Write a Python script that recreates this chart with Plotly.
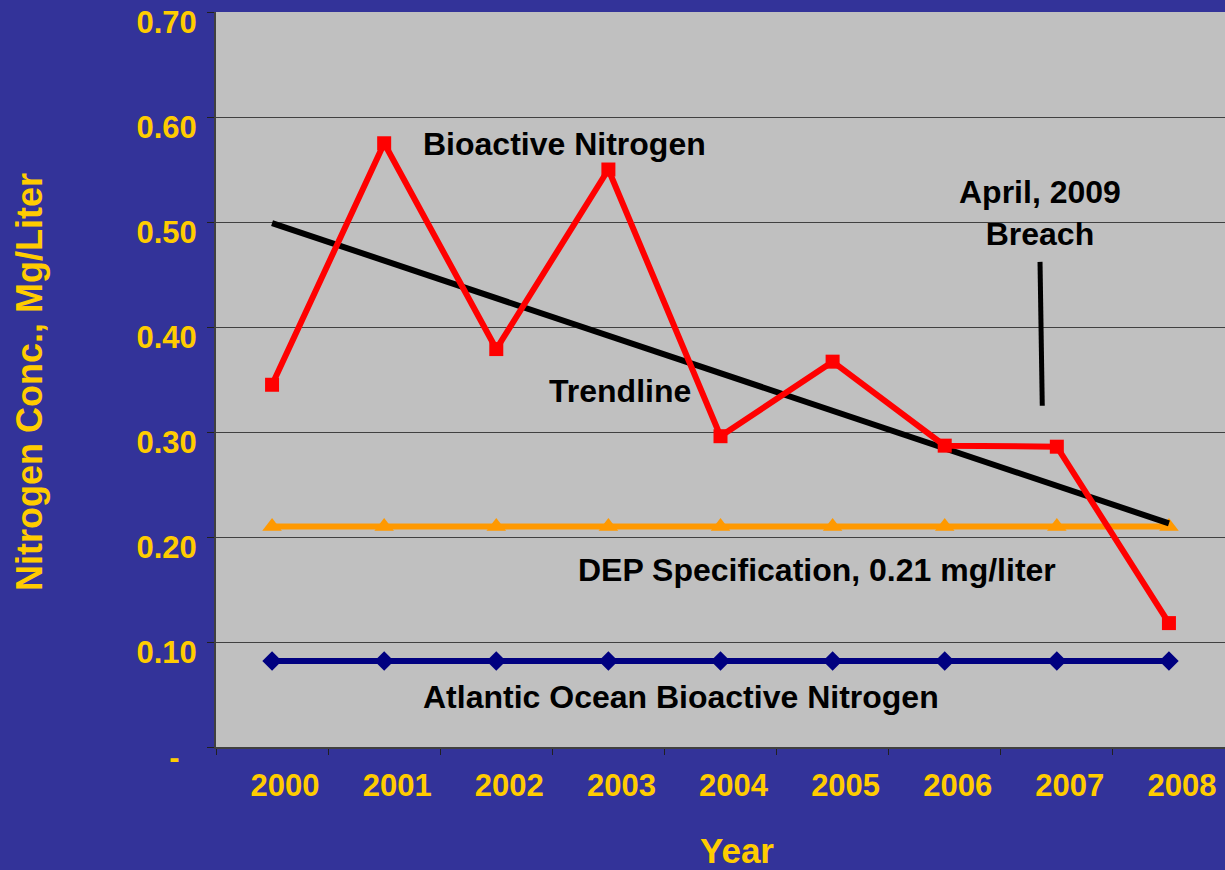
import plotly.graph_objects as go

years = ["2000", "2001", "2002", "2003", "2004", "2005", "2006", "2007", "2008"]
bioactive_nitrogen = [0.345, 0.575, 0.379, 0.550, 0.296, 0.367, 0.287, 0.286, 0.118]
dep_specification = [0.21, 0.21, 0.21, 0.21, 0.21, 0.21, 0.21, 0.21, 0.21]
atlantic_ocean = [0.082, 0.082, 0.082, 0.082, 0.082, 0.082, 0.082, 0.082, 0.082]
trend_years = ["2000", "2008"]
trend_values = [0.499, 0.213]
breach_x = [6.85, 6.87]
breach_y = [0.462, 0.325]
y_tick_values = [0, 0.1, 0.2, 0.3, 0.4, 0.5, 0.6, 0.7]
y_tick_labels = ["-\u00a0\u00a0", "0.10", "0.20", "0.30", "0.40", "0.50", "0.60", "0.70"]

FONT = "Arial, 'Liberation Sans', sans-serif"
YELLOW = "#FFCC00"
BG = "#333399"

fig = go.Figure()

fig.add_trace(go.Scatter(
    x=years, y=atlantic_ocean, mode="lines+markers",
    line=dict(color="#000080", width=6),
    marker=dict(symbol="diamond", size=15, color="#000080"),
    name="Atlantic Ocean Bioactive Nitrogen"))
fig.add_trace(go.Scatter(
    x=years, y=dep_specification, mode="lines+markers",
    line=dict(color="#FF9900", width=6),
    marker=dict(symbol="triangle-up", size=17, color="#FF9900"),
    name="DEP Specification"))
fig.add_trace(go.Scatter(
    x=trend_years, y=trend_values, mode="lines",
    line=dict(color="black", width=6), name="Trendline"))
fig.add_trace(go.Scatter(
    x=years, y=bioactive_nitrogen, mode="lines+markers",
    line=dict(color="#FF0000", width=6),
    marker=dict(symbol="square", size=14, color="#FF0000"),
    name="Bioactive Nitrogen"))

fig.add_shape(type="line", xref="x", yref="y",
              x0=breach_x[0], y0=breach_y[0], x1=breach_x[1], y1=breach_y[1],
              line=dict(color="black", width=5))

ann_font = dict(family=FONT, size=32, color="black", weight="bold")
annotations = [
    dict(text="Bioactive Nitrogen", x=2.61, y=0.574),
    dict(text="Trendline", x=3.10, y=0.339),
    dict(text="DEP Specification, 0.21 mg/liter", x=4.86, y=0.169),
    dict(text="Atlantic Ocean Bioactive Nitrogen", x=3.65, y=0.048),
    dict(text="April, 2009<br>Breach", x=6.85, y=0.509),
]
for a in annotations:
    fig.add_annotation(xref="x", yref="y", showarrow=False, font=ann_font,
                       xanchor="center", yanchor="middle", **a)

fig.add_annotation(text="Nitrogen Conc., Mg/Liter", xref="paper", yref="paper",
                   x=(29 - 216) / 1009, y=0.5 - (382 - 379.5) / 735,
                   textangle=-90, showarrow=False, xanchor="center", yanchor="middle",
                   font=dict(family=FONT, size=36, color=YELLOW, weight="bold"))
fig.add_annotation(text="Year", xref="paper", yref="paper",
                   x=(737 - 216) / 1009, y=-(850 - 747) / 735,
                   showarrow=False, xanchor="center", yanchor="middle",
                   font=dict(family=FONT, size=35, color=YELLOW, weight="bold"))

fig.update_layout(
    width=1225, height=870,
    paper_bgcolor=BG, plot_bgcolor="#C0C0C0",
    margin=dict(l=216, r=0, t=12, b=123),
    showlegend=False,
    xaxis=dict(type="category", range=[-0.5, 8.5], tickson="boundaries",
               ticks="outside", ticklen=6, tickcolor="#202020", tickwidth=1,
               showgrid=False, showline=True, linecolor="#404040", linewidth=2,
               tickfont=dict(family=FONT, size=31, color=YELLOW, weight="bold"),
               ticklabelshift=13, ticklabelstandoff=10),
    yaxis=dict(range=[0, 0.70001], tickvals=y_tick_values, ticktext=y_tick_labels,
               ticks="outside", ticklen=7, tickcolor="#202020", tickwidth=1,
               showgrid=True, gridcolor="#404040", gridwidth=1, zeroline=False,
               showline=True, linecolor="#404040", linewidth=2,
               tickfont=dict(family=FONT, size=31, color=YELLOW, weight="bold"),
               ticklabelshift=10, ticklabelstandoff=4),
)

fig.write_html("out.html", config={"displayModeBar": False},
               post_script="document.body.style.margin='0';document.body.style.padding='0';document.body.style.overflow='hidden';")
